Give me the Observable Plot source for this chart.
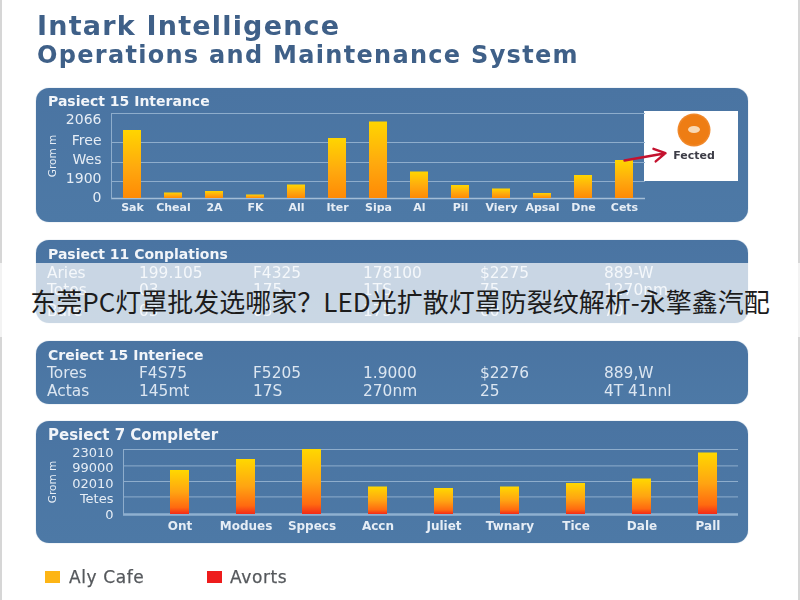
<!DOCTYPE html>
<html><head><meta charset="utf-8">
<script src="https://cdn.jsdelivr.net/npm/d3@7"></script>
<script src="https://cdn.jsdelivr.net/npm/@observablehq/plot@0.6"></script>
<style>
html,body{margin:0;padding:0;background:#fff;width:800px;height:600px;overflow:hidden}
#page{position:relative;width:800px;height:600px;background:#fff;font-family:"DejaVu Sans",sans-serif;filter:blur(.5px)}
#page:before{content:"";position:absolute;left:0;right:0;top:0;bottom:0;border-left:2px solid #d6d6d6;border-right:2px solid #d6d6d6}
.h1{position:absolute;left:37px;color:#3f6088;white-space:nowrap;font-weight:700}
.panel{position:absolute;left:36px;width:712px;background:linear-gradient(#4a74a2,#4d79a6);border-radius:13px;box-shadow:0 0 1px #7f9cbb}
.ptitle{position:absolute;left:48px;color:#f2f5f9;font-weight:700;font-size:14px;white-space:nowrap;transform:translateY(-50%)}
.cell{position:absolute;color:#dce6f1;font-size:15.4px;white-space:nowrap;transform:translateY(-50%)}
.plot{position:absolute;left:0}
#callout{position:absolute;left:644px;top:111px;width:94px;height:70px;background:#fff}
#gear{position:absolute;left:35px;top:4px;width:30px;height:30px;border-radius:50%;background:#ee7d14;box-shadow:0 0 0 1.5px #f0882a}
#gear:after{content:"";position:absolute;left:9px;top:11px;width:12px;height:7px;border-radius:50%;background:#f8d9b5}
#callout span{position:absolute;left:0;width:100%;padding-left:6px;box-sizing:border-box;text-align:center;top:38px;font-size:11px;font-weight:700;color:#3c3c46}
.swatch{position:absolute;top:571px;width:15px;height:12px}
.leg{position:absolute;top:577px;color:#55585c;font-size:17px;letter-spacing:.6px;transform:translateY(-50%);white-space:nowrap;-webkit-text-stroke:.25px #55585c}
#banner{position:absolute;left:0;top:263px;width:800px;height:74px;background:rgba(255,255,255,.7);display:flex;align-items:center;justify-content:center;font-family:"Noto Sans CJK SC";font-size:26px;color:#1c1c1c;white-space:nowrap;box-sizing:border-box}
</style></head>
<body>
<div id="page"></div>
<div id="banner"></div>
<script>
// Reference text
const bannerText = "东莞PC灯罩批发选哪家？LED光扩散灯罩防裂纹解析-永擎鑫汽配";
const titleLine1 = "Intark Intelligence";
const titleLine2 = "Operations and Maintenance System";

// Chart 1
const chart1Title = "Pasiect 15 Interance";
const chart1Cats = ["Sak","Cheal","2A","FK","All","Iter","Sipa","Al","Pil","Viery","Apsal","Dne","Cets"];
const chart1Vals = [68,5.5,7,3.5,13.5,60,76.5,26.5,13,9.5,5,23,38];
const chart1Grid = [17,36,56,85];
const chart1TickPos = [1,20,39,58,79];
const chart1TickLab = ["0","1900","Wes","Free","2066"];
const calloutLabel = "Fected";

// Table 1
const table1Title = "Pasiect 11 Conplations";
const table1Rows = [
  ["Aries","199.105","F4325","178100","$2275","889-W"],
  ["Totes","03","175","1TS","75","1270nm"],
  ["Bare","03","03","175","60","70"]
];
// Table 2
const table2Title = "Creiect 15 Interiece";
const table2Rows = [
  ["Tores","F4S75","F5205","1.9000","$2276","889,W"],
  ["Actas","145mt","17S","270nm","25","4T 41nnl"]
];
const tableCols = [47,139,253,363,480,604];

// Chart 2
const chart2Title = "Pesiect 7 Completer";
const chart2Cats = ["Ont","Modues","Sppecs","Accn","Juliet","Twnary","Tice","Dale","Pall"];
const chart2Vals = [44,55,65,27.5,26,27.5,31,35.5,61.5];
const chart2Grid = [17.6,33,48.6,65];
const chart2TickPos = [0,16,31,47,62];
const chart2TickLab = ["0","Tetes","02010","99000","23010"];

// Legend
const legendLabels = ["Aly Cafe","Avorts"];
const legendColors = ["#fdb515","#ee1c1c"];

const page = document.getElementById("page");
function add(cls, text, css){
  const d = document.createElement("div");
  d.className = cls; if(text!=null) d.textContent = text;
  Object.assign(d.style, css||{}); page.appendChild(d); return d;
}
function gradient(id, stops){
  return () => {
    const defs = d3.create("svg:defs");
    const g = defs.append("linearGradient").attr("id",id).attr("x1",0).attr("x2",0).attr("y1",0).attr("y2",1);
    stops.forEach(([o,c]) => g.append("stop").attr("offset",o).attr("stop-color",c));
    return defs.node();
  };
}
const ink = "#e6edf5", gridInk = "#8eadcc";

add("h1", titleLine1, {top:"9px",fontSize:"27px",lineHeight:"34px",letterSpacing:"1.2px"});
add("h1", titleLine2, {top:"38px",fontSize:"24px",lineHeight:"34px",letterSpacing:"1.3px"});

// Panels
add("panel", null, {top:"88px",height:"134px"});
add("panel", null, {top:"240px",height:"83px"});
add("panel", null, {top:"341px",height:"63px"});
add("panel", null, {top:"421px",height:"122px"});

add("ptitle", chart1Title, {top:"101px"});
add("ptitle", table1Title, {top:"254px"});
add("ptitle", table2Title, {top:"355px"});
add("ptitle", chart2Title, {top:"435px",fontSize:"15px"});

function table(rows, ys){
  rows.forEach((r,i) => r.forEach((c,j) => add("cell", c, {left:tableCols[j]+"px",top:ys[i]+"px"})));
}
table(table1Rows,[273,290,311]);
table(table2Rows,[373,391]);

// Callout box
const box = add("", null, {}); box.id = "callout";
const gear = document.createElement("div"); gear.id = "gear"; box.appendChild(gear);
const lab = document.createElement("span"); lab.textContent = calloutLabel; box.appendChild(lab);

// Chart 1 plot
const step1 = 41.25;
const p1 = Plot.plot({
  width:800, height:150, marginTop:33, marginBottom:32, marginLeft:111, marginRight:155,
  style:{background:"transparent",fontFamily:"'DejaVu Sans',sans-serif",overflow:"visible"},
  x:{type:"band",domain:[...chart1Cats,calloutLabel],range:[110.4,110.4+step1*14],paddingInner:.55,paddingOuter:.275},
  y:{domain:[0,85]},
  marks:[
    gradient("g1",[[0,"#ffd500"],[.55,"#ffa90e"],[1,"#ff8a05"]]),
    Plot.ruleY(chart1Grid,{stroke:gridInk,strokeWidth:1}),
    Plot.ruleY([0],{stroke:"#a3bdd6",strokeWidth:1.5}),
    Plot.frame({anchor:"left",stroke:gridInk}),
    Plot.barY(chart1Cats,{x:d=>d,y:(d,i)=>chart1Vals[i],fill:"url(#g1)"}),
    Plot.axisY({ticks:chart1TickPos,tickSize:0,tickPadding:10,label:null,color:ink,fontSize:14,tickFormat:d=>chart1TickLab[chart1TickPos.indexOf(d)]}),
    Plot.axisX({ticks:chart1Cats,tickSize:0,tickPadding:5,label:null,color:ink,fontSize:11,fontWeight:600}),
    Plot.text(["Grom m"],{frameAnchor:"left",textAnchor:"middle",rotate:-90,dx:-59,fontSize:10.5,fill:ink}),
    Plot.arrow([{a:"Cets",b:calloutLabel,f:38,t:45.3}],{x1:"a",x2:"b",y1:"f",y2:"t",stroke:"#c4122f",strokeWidth:2.4,headLength:8})
  ]
});
p1.classList.add("plot"); p1.style.top="80px"; p1.style.position="absolute"; p1.style.left="0"; page.appendChild(p1);

// Chart 2 plot
const p2 = Plot.plot({
  width:800, height:130, marginTop:34, marginBottom:31, marginLeft:123, marginRight:62,
  style:{background:"transparent",fontFamily:"'DejaVu Sans',sans-serif",overflow:"visible"},
  x:{type:"band",domain:chart2Cats,range:[142.3,744.7],paddingInner:.705,paddingOuter:.3525},
  y:{domain:[0,65]},
  marks:[
    gradient("g2",[[0,"#ffd800"],[.5,"#ffa412"],[.85,"#ff6a10"],[1,"#f22a18"]]),
    Plot.ruleY(chart2Grid,{stroke:gridInk,strokeWidth:1}),
    Plot.ruleY([0],{stroke:"#8fb0d0",strokeWidth:2.5}),
    Plot.frame({anchor:"left",stroke:gridInk}),
    Plot.barY(chart2Cats,{x:d=>d,y:(d,i)=>chart2Vals[i],fill:"url(#g2)"}),
    Plot.axisY({ticks:chart2TickPos,tickSize:0,tickPadding:10,label:null,color:ink,fontSize:13,tickFormat:d=>chart2TickLab[chart2TickPos.indexOf(d)]}),
    Plot.axisX({ticks:chart2Cats,tickSize:0,tickPadding:7,label:null,color:ink,fontSize:12,fontWeight:600}),
    Plot.text(["Grom m"],{frameAnchor:"left",textAnchor:"middle",rotate:-90,dx:-71,fontSize:10.5,fill:ink})
  ]
});
p2.style.top="415px"; p2.style.position="absolute"; p2.style.left="0"; page.appendChild(p2);

// Legend
add("swatch", null, {left:"45px",background:legendColors[0]});
add("leg", legendLabels[0], {left:"69px"});
add("swatch", null, {left:"207px",background:legendColors[1]});
add("leg", legendLabels[1], {left:"230px"});

document.getElementById("banner").textContent = bannerText;
</script>
</body></html>
